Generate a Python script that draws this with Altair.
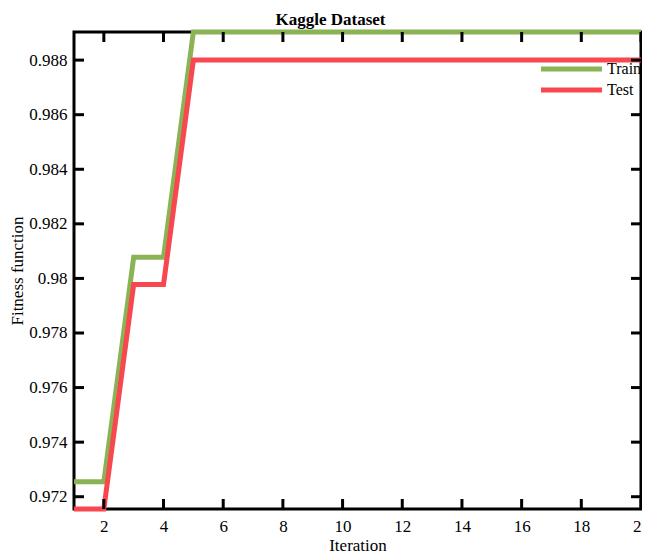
import altair as alt
import pandas as pd

iterations = list(range(1, 21))
train = [0.97255, 0.97255, 0.98078, 0.98078] + [0.98903] * 16
test = [0.97155, 0.97155, 0.97978, 0.97978] + [0.988] * 16
series_names = ["Train", "Test"]
series_colors = ["#8AB356", "#F8474F"]
x_ticks = [2, 4, 6, 8, 10, 12, 14, 16, 18, 20]
y_ticks = [0.972, 0.974, 0.976, 0.978, 0.980, 0.982, 0.984, 0.986, 0.988]

W, H = 567, 477
FONT = "Liberation Serif"
x_dom = [1, 20]
y_dom = [min(test), max(train)]

xs = alt.Scale(domain=x_dom, nice=False, zero=False)
ys = alt.Scale(domain=y_dom, nice=False, zero=False)

df_train = pd.DataFrame({"it": iterations, "v": train})
df_test = pd.DataFrame({"it": iterations, "v": test})

x_axis = alt.Axis(values=x_ticks, ticks=False, domain=False, grid=False,
                  labelFont=FONT, labelFontSize=17, labelColor="black",
                  labelPadding=9, title="Iteration", titleFont=FONT,
                  titleFontSize=17, titleFontWeight="normal", titleColor="black",
                  titlePadding=3, labelFlush=False)
y_axis = alt.Axis(values=y_ticks, ticks=False, domain=False, grid=False,
                  labelFont=FONT, labelFontSize=17, labelColor="black",
                  labelPadding=7, format=".3~f", title="Fitness function",
                  titleFont=FONT, titleFontSize=17, titleFontWeight="normal",
                  titleColor="black", titlePadding=2, labelFlush=False)

line_train = alt.Chart(df_train).mark_line(color=series_colors[0], strokeWidth=5, clip=False).encode(
    x=alt.X("it:Q", scale=xs, axis=x_axis),
    y=alt.Y("v:Q", scale=ys, axis=y_axis),
)
line_test = alt.Chart(df_test).mark_line(color=series_colors[1], strokeWidth=5, clip=False).encode(
    x=alt.X("it:Q", scale=xs, title="Iteration"),
    y=alt.Y("v:Q", scale=ys, title="Fitness function"),
)

df_xt = pd.DataFrame({"t": x_ticks})
df_yt = pd.DataFrame({"t": y_ticks})
TL = 10
tick_style = dict(color="black", strokeWidth=3)
bottom_ticks = alt.Chart(df_xt).mark_rule(**tick_style).encode(
    x=alt.X("t:Q", scale=xs, title="Iteration"), y=alt.value(H), y2=alt.value(H - TL))
top_ticks = alt.Chart(df_xt).mark_rule(**tick_style).encode(
    x=alt.X("t:Q", scale=xs, title="Iteration"), y=alt.value(0), y2=alt.value(TL))
left_ticks = alt.Chart(df_yt).mark_rule(**tick_style).encode(
    y=alt.Y("t:Q", scale=ys, title="Fitness function"), x=alt.value(0), x2=alt.value(TL))
right_ticks = alt.Chart(df_yt).mark_rule(**tick_style).encode(
    y=alt.Y("t:Q", scale=ys, title="Fitness function"), x=alt.value(W), x2=alt.value(W - TL))

legend_layers = []
leg_y = [37, 58]
for name, col, yy in zip(series_names, series_colors, leg_y):
    d = pd.DataFrame({"name": [name]})
    legend_layers.append(alt.Chart(d).mark_rule(color=col, strokeWidth=5).encode(
        x=alt.value(467), x2=alt.value(528), y=alt.value(yy)))
    legend_layers.append(alt.Chart(d).mark_text(
        align="left", baseline="middle", font=FONT, fontSize=16, color="black").encode(
        x=alt.value(533), y=alt.value(yy), text="name:N"))

chart = alt.layer(
    line_train, line_test, bottom_ticks, top_ticks, left_ticks, right_ticks,
    *legend_layers
).properties(
    width=W, height=H,
    title=alt.TitleParams("Kaggle Dataset", font=FONT, fontSize=17, fontWeight="bold",
                          color="black", offset=6, dx=-27, dy=13),
    autosize=alt.AutoSizeParams(type="none"),
    padding={"left": 66, "top": 24, "right": 1, "bottom": 45},
).configure(
    background="white", font=FONT
).configure_view(
    stroke="black", strokeWidth=3
).configure_axis(
    labelFont=FONT, titleFont=FONT, labelFontSize=17, titleFontSize=17,
    labelColor="black", titleColor="black", titleFontWeight="normal",
    ticks=False, domain=False, grid=False
)

chart.save("out.html", embed_options={"renderer": "svg", "actions": False})
